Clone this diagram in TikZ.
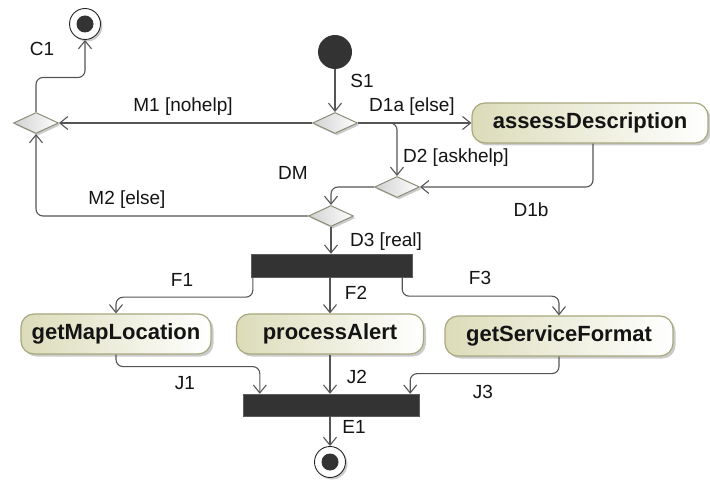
\documentclass[tikz,border=0pt]{standalone}
\usepackage{fontspec}
\setmainfont{Liberation Sans}
\usetikzlibrary{arrows.meta,shapes.geometric,shadows,calc}
\definecolor{lc}{HTML}{555555}
\definecolor{nodeborder}{HTML}{A8A880}
\definecolor{nodefill}{HTML}{DCDCBA}
\definecolor{darkf}{HTML}{333333}
\definecolor{dborder}{HTML}{8C8C78}
\definecolor{txt}{HTML}{141414}
\tikzset{
  action/.style={rectangle, rounded corners=13pt, draw=nodeborder, line width=1.2pt,
    left color=nodefill, right color=white, minimum height=40pt, inner sep=0pt,
    font=\fontsize{22}{24}\selectfont\bfseries, text=txt,
    drop shadow={shadow xshift=2.5pt, shadow yshift=-2.5pt, fill=black!40, opacity=0.5}},
  decision/.style={diamond, draw=dborder, line width=1pt, left color=black!18, right color=white,
    minimum width=45pt, minimum height=21pt, inner sep=0pt,
    drop shadow={shadow xshift=2pt, shadow yshift=-2pt, fill=black!40, opacity=0.5}},
  syncbar/.style={rectangle, fill=darkf, draw=darkf!80, inner sep=0pt},
  startnode/.style={circle, fill=darkf, minimum size=34pt, inner sep=0pt},
  finalnode/.style={circle, draw=black!85, line width=0.9pt, fill=white, minimum size=31pt, inner sep=0pt,
    drop shadow={shadow xshift=2pt, shadow yshift=-2pt, fill=black!40, opacity=0.5},
    path picture={\fill[darkf] (path picture bounding box.center) circle (8.5pt);}},
  flow/.style={draw=lc, line width=1.1pt, rounded corners=7pt, -{Straight Barb[length=8pt,width=13pt]}},
  lab/.style={font=\fontsize{19}{21}\selectfont, text=txt, inner sep=0pt}
}
\begin{document}
\begin{tikzpicture}[x=1pt,y=-1pt]
\useasboundingbox[fill=white] (0,0) rectangle (710,481);
% nodes
\node[finalnode] (C1f) at (85,24) {};
\node[startnode] (S) at (335,52) {};
\node[decision] (M) at (36,123) {};
\node[decision] (D1) at (335,123) {};
\node[action, minimum width=236pt] (AD) at (590,123) {assessDescription};
\node[decision] (D2) at (397,187) {};
\node[decision] (DM) at (331,216) {};
\node[syncbar, minimum width=161pt, minimum height=23pt] (fork) at (331.5,265.5) {};
\node[action, minimum width=190pt] (GML) at (116,334) {getMapLocation};
\node[action, minimum width=187pt] (PA) at (330,334) {processAlert};
\node[action, minimum width=228pt] (GSF) at (559,336) {getServiceFormat};
\node[syncbar, minimum width=176pt, minimum height=22pt] (join) at (331,405) {};
\node[finalnode] (E) at (330,462) {};
% edges
\draw[flow] (M.north) -- ++(0,-34.5) -| (C1f.south);
\draw[flow] (S) -- (D1.north);
\draw[flow] (D1.west) -- (M.east);
\draw[flow] (D1.east) -- (AD.west);
\draw[flow] (D1.east) -| (D2.north);
\draw[flow] ($(AD.south)+(3,0)$) |- (D2.east);
\draw[flow] (D2.west) -| (DM.north);
\draw[flow] (DM.west) -| (M.south);
\draw[flow] (DM.south) -- (DM.south |- fork.north);
\draw[flow] ($(fork.south west)+(2,0)$) -- ++(0,20) -| (GML.north);
\draw[flow] (PA.north |- fork.south) -- (PA.north);
\draw[flow] ($(fork.south east)+(-10,0)$) -- ++(0,19) -| (GSF.north);
\draw[flow] (GML.south) -- ++(0,12) -| ($(join.north west)+(17,0)$);
\draw[flow] (PA.south) -- (PA.south |- join.north);
\draw[flow] (GSF.south) -- ++(0,17) -| ($(join.north east)+(-9,0)$);
\draw[flow] (E.north |- join.south) -- (E.north);
% labels
\node[lab] (lC1) at (42,49) {C1};
\node[lab] (lS1) at (362,81) {S1};
\node[lab] (lM1) at (183,107) {M1 [nohelp]};
\node[lab] (lD1a) at (412,107) {D1a [else]};
\node[lab] (lD2) at (456,158) {D2 [askhelp]};
\node[lab] (lD1b) at (531,210) {D1b};
\node[lab] (lDM) at (293,173) {DM};
\node[lab] (lM2) at (127,200) {M2 [else]};
\node[lab] (lD3) at (386,242) {D3 [real]};
\node[lab] (lF1) at (182,280) {F1};
\node[lab] (lF2) at (356,293) {F2};
\node[lab] (lF3) at (480,278) {F3};
\node[lab] (lJ1) at (185,383) {J1};
\node[lab] (lJ2) at (357,377) {J2};
\node[lab] (lJ3) at (483,392) {J3};
\node[lab] (lE1) at (354,427) {E1};
\end{tikzpicture}
\end{document}
